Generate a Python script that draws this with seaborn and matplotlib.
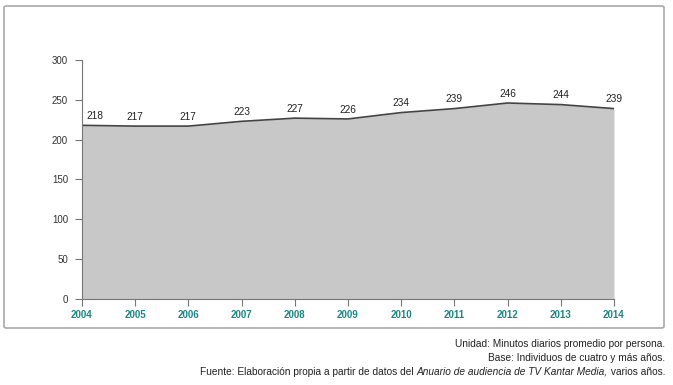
import matplotlib.pyplot as plt
import pandas as pd
import seaborn as sns
from matplotlib.patches import FancyBboxPatch

sns.set_style('white')
plt.rcParams['font.family'] = ['Liberation Sans', 'DejaVu Sans']

# Data
years = [2004, 2005, 2006, 2007, 2008, 2009, 2010, 2011, 2012, 2013, 2014]
minutes = [218, 217, 217, 223, 227, 226, 234, 239, 246, 244, 239]
yticks = [0, 50, 100, 150, 200, 250, 300]

notes = [
    'Unidad: Minutos diarios promedio por persona.',
    'Base: Individuos de cuatro y más años.',
]
source = ['Fuente: Elaboración propia a partir de datos del ',
          'Anuario de audiencia de TV Kantar Media,',
          ' varios años.']

df = pd.DataFrame({'year': years, 'minutes': minutes})

fig = plt.figure(figsize=(6.73, 3.85), dpi=100)
ax = fig.add_axes([0.1218, 0.2234, 0.7905, 0.6208])

# Outer frame
frame = FancyBboxPatch(
    (4 / 673, 1 - 328 / 385), 660 / 673, (328 - 6) / 385,
    boxstyle='round,pad=0,rounding_size=0.004', transform=fig.transFigure,
    fc='none', ec='#a8a8a8', lw=1.2, zorder=0
)
fig.patches.append(frame)

ax.fill_between(df['year'], df['minutes'], 0, color='#c8c8c8', lw=0, zorder=1)
sns.lineplot(data=df, x='year', y='minutes', color='#444444', lw=1.2, ax=ax, zorder=2)

for i, (x, y) in enumerate(zip(years, minutes)):
    dx = 9 if i == 0 else 0
    ax.annotate(str(y), xy=(x, y), xytext=(dx, 3), textcoords='offset points',
                ha='center', va='bottom', fontsize=7.3, color='#222222')

ax.set_xlim(years[0], years[-1])
ax.set_ylim(0, 300)
ax.set_xticks(years)
ax.set_xticklabels([str(y) for y in years], fontsize=7, fontweight='bold', color='#1b8585')
ax.set_yticks(yticks)
ax.set_yticklabels([str(t) for t in yticks], fontsize=7, color='#333333')
ax.set(xlabel=None, ylabel=None)

ax.tick_params(axis='both', bottom=True, left=True, direction='out', length=5,
               width=0.8, color='#777777', pad=3)
ax.tick_params(axis='y', pad=5)
for side in ('top', 'right'):
    ax.spines[side].set_visible(False)
for side in ('left', 'bottom'):
    ax.spines[side].set_color('#777777')
    ax.spines[side].set_linewidth(0.8)

# Footnotes
fs = 7.3
fig.text(665 / 673, 1 - 344 / 385, notes[0], ha='right', va='center', fontsize=fs, color='#222222')
fig.text(665 / 673, 1 - 358 / 385, notes[1], ha='right', va='center', fontsize=fs, color='#222222')

# Source line: pieces placed right to left so the title can be italic
renderer = fig.canvas.get_renderer()
x_right = 665 / 673
for piece, style in zip(source[::-1], ['normal', 'italic', 'normal']):
    t = fig.text(x_right, 1 - 372 / 385, piece, ha='right', va='center',
                 fontsize=fs, color='#222222', fontstyle=style)
    bb = t.get_window_extent(renderer=renderer)
    x_right -= bb.width / fig.bbox.width

plt.savefig('out.png', dpi=100)
